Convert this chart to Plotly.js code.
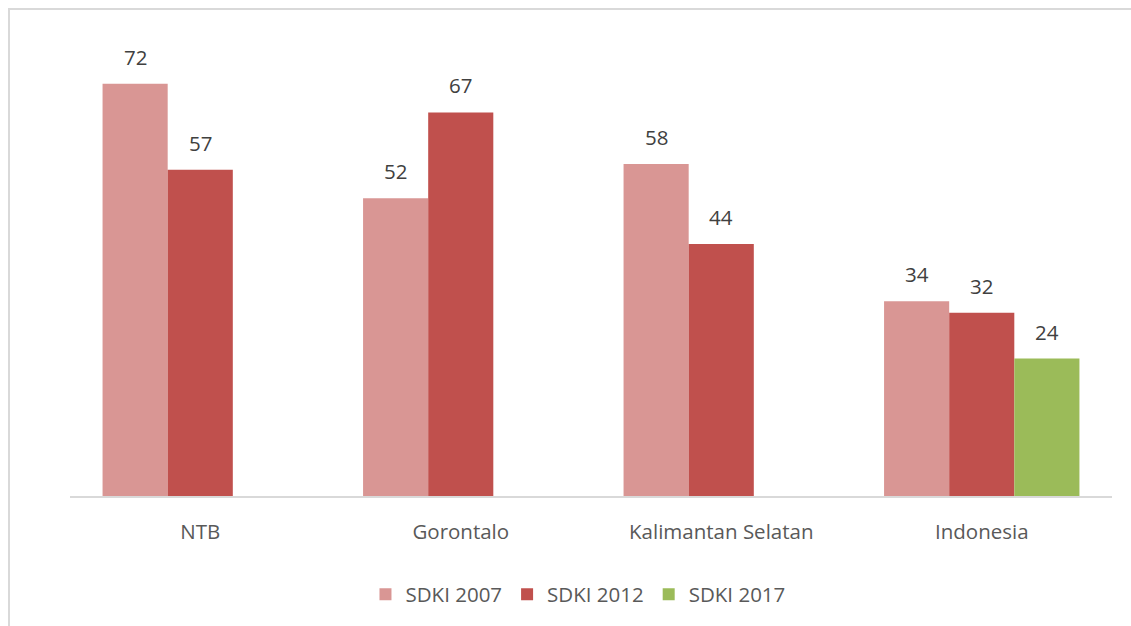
<!DOCTYPE html>
<html>
<head>
<meta charset="utf-8">
<script src="https://cdn.plot.ly/plotly-3.0.1.min.js"></script>
<style>
html,body{margin:0;padding:0;background:#fff;}
#wrap{position:relative;width:1131px;height:626px;}
#chart{width:1131px;height:626px;}
#frame{position:absolute;left:8px;top:8px;width:1123px;height:618px;border-top:2px solid #d9d9d9;border-left:2px solid #d9d9d9;pointer-events:none;box-sizing:border-box;}
</style>
</head>
<body>
<div id="wrap"><div id="chart"></div><div id="frame"></div></div>
<script>
const categories = ["NTB", "Gorontalo", "Kalimantan Selatan", "Indonesia"];
const seriesNames = ["SDKI 2007", "SDKI 2012", "SDKI 2017"];
const sdki2007 = [72, 52, 58, 34];
const sdki2012 = [57, 67, 44, 32];
const sdki2017 = [null, null, null, 24];
const colors = ["#D99694", "#C0504D", "#9BBB59"];

const allSeries = [sdki2007, sdki2012, sdki2017];
const font = "'Open Sans', 'Noto Sans', sans-serif";
const fs = 20.5;

const plotLeft = 70, plotRight = 1112;
const catWidth = (plotRight - plotLeft) / categories.length;
const bargap = 0.25;
const barWidth = catWidth * (1 - bargap) / allSeries.length;

const traces = allSeries.map((vals, i) => ({
  type: 'bar',
  name: seriesNames[i],
  x: categories,
  y: vals,
  marker: {color: colors[i], line: {width: 0}},
  hoverinfo: 'x+y+name'
}));

const annotations = [];
allSeries.forEach((vals, i) => {
  vals.forEach((v, j) => {
    if (v === null) return;
    annotations.push({
      x: categories[j], y: v, xref: 'x', yref: 'y',
      text: String(v), showarrow: false,
      xshift: (i - (allSeries.length - 1) / 2) * barWidth,
      yshift: 27,
      font: {family: font, size: fs, color: '#404040'}
    });
  });
});

const layout = {
  width: 1131, height: 626,
  paper_bgcolor: '#ffffff', plot_bgcolor: '#ffffff',
  margin: {l: plotLeft, r: 1131 - plotRight, t: 38, b: 127},
  barmode: 'group', bargap: bargap, bargroupgap: 0,
  font: {family: font, size: fs, color: '#595959'},
  showlegend: true,
  legend: {
    orientation: 'h', x: 0.4875, xanchor: 'center', xref: 'paper',
    y: -0.215, yanchor: 'middle',
    font: {family: font, size: fs, color: '#595959'},
    itemclick: false
  },
  xaxis: {
    showline: true, linecolor: '#d9d9d9', linewidth: 2,
    showgrid: false, zeroline: false, ticks: '',
    ticklabelstandoff: 16,
    tickfont: {family: font, size: fs, color: '#595959'}
  },
  yaxis: {
    range: [0, 80], visible: false, showgrid: false, zeroline: false
  },
  annotations: annotations
};

Plotly.newPlot('chart', traces, layout, {displayModeBar: false, staticPlot: true});
</script>
</body>
</html>
